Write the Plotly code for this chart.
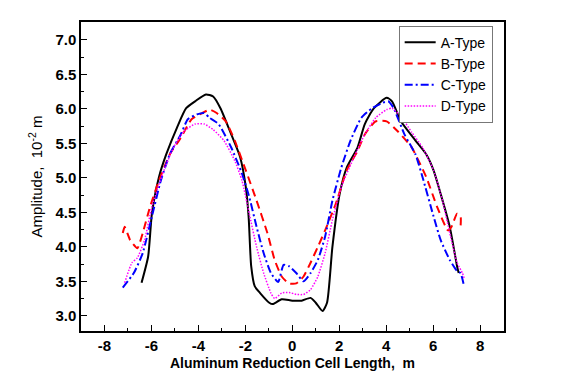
import plotly.graph_objects as go

a_x = [-6.42, -6.14, -5.98, -5.68, -5.37, -4.91, -4.52, -4.14, -3.68, -3.37, -3.06, -2.6, -2.22, -1.98, -1.86, -1.75, -1.6, -1.37, -0.98, -0.83, -0.45, 0.0, 0.4, 0.78, 1.0, 1.29, 1.48, 1.71, 2.02, 2.32, 2.78, 3.09, 3.48, 4.02, 4.25, 4.63, 5.25, 5.71, 6.02, 6.32, 6.71, 7.02, 7.09]
a_y = [3.48, 3.86, 4.48, 5.01, 5.34, 5.73, 6.01, 6.11, 6.21, 6.18, 6.01, 5.63, 5.30, 4.87, 4.44, 3.72, 3.43, 3.33, 3.19, 3.17, 3.24, 3.22, 3.22, 3.26, 3.19, 3.07, 3.19, 4.0, 4.77, 5.15, 5.44, 5.78, 6.01, 6.16, 6.11, 5.82, 5.54, 5.34, 5.11, 4.77, 4.29, 3.72, 3.62]

b_x = [-7.22, -7.14, -6.91, -6.6, -6.37, -6.06, -5.68, -5.22, -4.75, -4.29, -3.83, -3.52, -3.22, -2.83, -2.45, -1.98, -1.52, -1.06, -0.75, -0.45, -0.14, 0.17, 0.48, 0.78, 1.09, 1.4, 1.86, 2.32, 2.78, 3.09, 3.55, 4.02, 4.48, 5.09, 5.71, 6.17, 6.63, 6.78, 7.02, 7.17, 7.17]
b_y = [4.20, 4.29, 4.10, 3.98, 4.20, 4.58, 4.96, 5.34, 5.58, 5.85, 5.94, 5.99, 5.94, 5.82, 5.54, 5.11, 4.67, 4.20, 3.81, 3.57, 3.47, 3.47, 3.57, 3.77, 4.0, 4.24, 4.63, 5.11, 5.39, 5.63, 5.82, 5.82, 5.68, 5.44, 5.01, 4.58, 4.24, 4.29, 4.48, 4.44, 4.29]

c_x = [-7.22, -6.75, -6.37, -5.98, -5.6, -5.22, -4.75, -4.45, -4.06, -3.75, -3.52, -3.14, -2.6, -2.14, -1.83, -1.52, -1.22, -0.91, -0.6, -0.37, -0.14, 0.17, 0.48, 0.78, 1.09, 1.4, 1.71, 2.09, 2.48, 2.94, 3.4, 3.86, 4.09, 4.32, 4.78, 5.25, 5.55, 6.02, 6.32, 6.71, 7.02, 7.17, 7.32]
c_y = [3.41, 3.62, 3.91, 4.44, 4.96, 5.34, 5.63, 5.85, 5.92, 5.94, 5.87, 5.78, 5.44, 5.06, 4.72, 4.29, 3.91, 3.62, 3.49, 3.74, 3.72, 3.62, 3.50, 3.62, 3.81, 4.15, 4.67, 5.15, 5.54, 5.87, 6.01, 6.09, 6.11, 6.01, 5.63, 5.34, 5.01, 4.44, 4.10, 3.81, 3.65, 3.62, 3.43]

d_x = [-7.14, -6.83, -6.6, -6.29, -5.98, -5.52, -5.06, -4.6, -4.14, -3.75, -3.37, -2.91, -2.45, -2.14, -1.83, -1.52, -1.22, -0.91, -0.75, -0.45, -0.14, 0.17, 0.48, 0.78, 1.09, 1.4, 1.71, 2.09, 2.63, 3.09, 3.55, 4.02, 4.25, 4.63, 5.09, 5.55, 6.02, 6.4, 6.71, 7.02, 7.25, 7.32]
d_y = [3.48, 3.77, 3.84, 4.10, 4.58, 5.06, 5.44, 5.68, 5.78, 5.78, 5.70, 5.54, 5.25, 4.96, 4.48, 4.0, 3.62, 3.33, 3.25, 3.33, 3.34, 3.31, 3.31, 3.38, 3.57, 3.91, 4.39, 4.87, 5.30, 5.63, 5.87, 5.99, 6.01, 5.89, 5.66, 5.44, 5.11, 4.67, 4.20, 3.77, 3.62, 3.55]

x_ticks = [-8, -6, -4, -2, 0, 2, 4, 6, 8]
y_ticks = [3.0, 3.5, 4.0, 4.5, 5.0, 5.5, 6.0, 6.5, 7.0]

fig = go.Figure()
fig.add_trace(go.Scatter(x=a_x, y=a_y, name="A-Type", mode="lines",
                         line=dict(color="black", width=2, shape="spline", smoothing=0.6)))
fig.add_trace(go.Scatter(x=b_x, y=b_y, name="B-Type", mode="lines",
                         line=dict(color="#ff0000", width=2, dash="8px,5px", shape="spline", smoothing=0.5)))
fig.add_trace(go.Scatter(x=c_x, y=c_y, name="C-Type", mode="lines",
                         line=dict(color="#0000ff", width=2, dash="8px,3px,2px,3px", shape="spline", smoothing=0.5)))
fig.add_trace(go.Scatter(x=d_x, y=d_y, name="D-Type", mode="lines",
                         line=dict(color="#ff00ff", width=1.5, dash="1.5px,1.5px", shape="spline", smoothing=0.5)))

font_family = "Liberation Sans, Arial, sans-serif"
fig.update_layout(
    width=565, height=377,
    margin=dict(l=73, r=69, t=12, b=54),
    paper_bgcolor="white", plot_bgcolor="white",
    font=dict(family=font_family, color="black", size=15),
    showlegend=True,
    legend=dict(x=0.751, y=0.988, xanchor="left", yanchor="top",
                bordercolor="#777777", borderwidth=1, bgcolor="white",
                font=dict(size=14, family=font_family), tracegroupgap=0,
                itemwidth=31),
    xaxis=dict(range=[-9, 9.02], tickvals=x_ticks, ticktext=[str(v) for v in x_ticks],
               ticks="inside", ticklen=6, tickwidth=1.2, tickcolor="black",
               minor=dict(dtick=1, ticks="inside", ticklen=3.5, tickcolor="black"),
               showline=True, linecolor="black", linewidth=1.5, mirror=True,
               showgrid=False, zeroline=False,
               tickfont=dict(size=15, family=font_family, weight="bold"),
               title=dict(text="<b>Aluminum Reduction Cell Length,  m</b>", standoff=5,
                          font=dict(size=14, family=font_family))),
    yaxis=dict(range=[2.78, 7.26], tickvals=y_ticks, ticktext=[f"{v:.1f}" for v in y_ticks],
               ticks="inside", ticklen=6, tickwidth=1.2, tickcolor="black",
               minor=dict(dtick=0.25, ticks="inside", ticklen=3.5, tickcolor="black"),
               showline=True, linecolor="black", linewidth=1.5, mirror=True,
               showgrid=False, zeroline=False,
               tickfont=dict(size=15, family=font_family, weight="bold"),
               title=dict(text="Amplitude,  10<sup>-2</sup> m", standoff=9,
                          font=dict(size=15, family=font_family))),
)

fig.write_html("out.html")
